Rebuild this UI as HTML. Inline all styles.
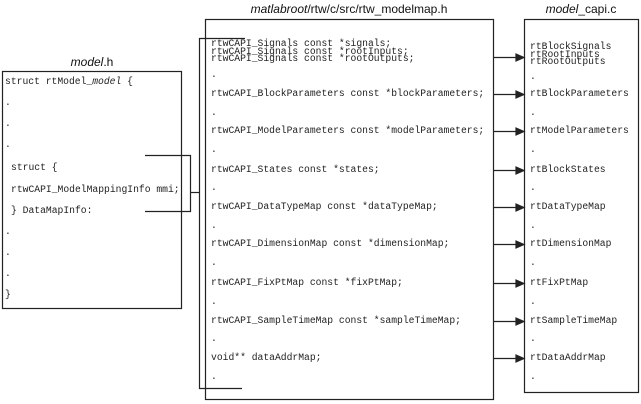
<!DOCTYPE html>
<html><head><meta charset="utf-8"><style>
body{margin:0;width:641px;height:404px;background:#fff;position:relative;overflow:hidden}
.t{position:absolute;font-family:"Liberation Mono",monospace;font-size:9.7px;line-height:10px;white-space:pre;color:#222}
.h{position:absolute;font-family:"Liberation Sans",sans-serif;font-size:12px;line-height:14px;white-space:pre;color:#111;transform:translateX(-50%)}
</style></head><body>
<svg width="641" height="404" style="position:absolute;left:0;top:0">
<g fill="none" stroke="#222" stroke-width="1.2">
<rect x="2.5" y="71.5" width="179" height="237"/>
<rect x="205.5" y="19.5" width="288" height="380"/>
<rect x="524.5" y="19.5" width="114" height="373"/>
<polyline points="145,155.5 190.5,155.5 190.5,211.5 145,211.5"/>
<line x1="190.5" y1="192.5" x2="199.5" y2="192.5"/>
<polyline points="245,38.5 199.5,38.5 199.5,388.5 242,388.5"/>
</g>
<g stroke="#222" stroke-width="1.2" fill="#222">
<line x1="494" y1="57.5" x2="516" y2="57.5"/><polygon points="516,54 524,57.5 516,61"/>
<line x1="494" y1="94.5" x2="516" y2="94.5"/><polygon points="516,91 524,94.5 516,98"/>
<line x1="494" y1="131.5" x2="516" y2="131.5"/><polygon points="516,128 524,131.5 516,135"/>
<line x1="494" y1="170.5" x2="516" y2="170.5"/><polygon points="516,167 524,170.5 516,174"/>
<line x1="494" y1="207.5" x2="516" y2="207.5"/><polygon points="516,204 524,207.5 516,211"/>
<line x1="494" y1="244.5" x2="516" y2="244.5"/><polygon points="516,241 524,244.5 516,248"/>
<line x1="494" y1="283.5" x2="516" y2="283.5"/><polygon points="516,280 524,283.5 516,287"/>
<line x1="494" y1="321.5" x2="516" y2="321.5"/><polygon points="516,318 524,321.5 516,325"/>
<line x1="494" y1="358.5" x2="516" y2="358.5"/><polygon points="516,355 524,358.5 516,362"/>
</g>
</svg>
<div class="h" style="left:92px;top:55px"><i>model</i>.h</div>
<div class="h" style="left:349px;top:2px"><i>matlabroot</i>/rtw/c/src/rtw_modelmap.h</div>
<div class="h" style="left:581px;top:2px"><i>model</i>_capi.c</div>

<div class="t" style="left:5px;top:77px">struct rtModel_<i>model</i> {</div>
<div class="t" style="left:5px;top:98px">.</div>
<div class="t" style="left:5px;top:119px">.</div>
<div class="t" style="left:5px;top:140px">.</div>
<div class="t" style="left:11px;top:163px">struct {</div>
<div class="t" style="left:11px;top:185px">rtwCAPI_ModelMappingInfo mmi;</div>
<div class="t" style="left:11px;top:206px">} DataMapInfo:</div>
<div class="t" style="left:5px;top:227px">.</div>
<div class="t" style="left:5px;top:248px">.</div>
<div class="t" style="left:5px;top:269px">.</div>
<div class="t" style="left:5px;top:290px">}</div>

<div class="t" style="left:211px;top:40px;line-height:7.5px">rtwCAPI_Signals const *signals;
rtwCAPI_Signals const *rootInputs;
rtwCAPI_Signals const *rootOutputs;</div>
<div class="t" style="left:211px;top:70px">.</div>
<div class="t" style="left:211px;top:89px">rtwCAPI_BlockParameters const *blockParameters;</div>
<div class="t" style="left:211px;top:108px">.</div>
<div class="t" style="left:211px;top:126px">rtwCAPI_ModelParameters const *modelParameters;</div>
<div class="t" style="left:211px;top:145px">.</div>
<div class="t" style="left:211px;top:165px">rtwCAPI_States const *states;</div>
<div class="t" style="left:211px;top:183px">.</div>
<div class="t" style="left:211px;top:202px">rtwCAPI_DataTypeMap const *dataTypeMap;</div>
<div class="t" style="left:211px;top:221px">.</div>
<div class="t" style="left:211px;top:239px">rtwCAPI_DimensionMap const *dimensionMap;</div>
<div class="t" style="left:211px;top:258px">.</div>
<div class="t" style="left:211px;top:278px">rtwCAPI_FixPtMap const *fixPtMap;</div>
<div class="t" style="left:211px;top:297px">.</div>
<div class="t" style="left:211px;top:316px">rtwCAPI_SampleTimeMap const *sampleTimeMap;</div>
<div class="t" style="left:211px;top:334px">.</div>
<div class="t" style="left:211px;top:353px">void** dataAddrMap;</div>
<div class="t" style="left:211px;top:372px">.</div>

<div class="t" style="left:530px;top:43px;line-height:7.5px">rtBlockSignals
rtRootInputs
rtRootOutputs</div>
<div class="t" style="left:530px;top:72px">.</div>
<div class="t" style="left:530px;top:89px">rtBlockParameters</div>
<div class="t" style="left:530px;top:108px">.</div>
<div class="t" style="left:530px;top:126px">rtModelParameters</div>
<div class="t" style="left:530px;top:145px">.</div>
<div class="t" style="left:530px;top:165px">rtBlockStates</div>
<div class="t" style="left:530px;top:183px">.</div>
<div class="t" style="left:530px;top:202px">rtDataTypeMap</div>
<div class="t" style="left:530px;top:221px">.</div>
<div class="t" style="left:530px;top:239px">rtDimensionMap</div>
<div class="t" style="left:530px;top:258px">.</div>
<div class="t" style="left:530px;top:278px">rtFixPtMap</div>
<div class="t" style="left:530px;top:297px">.</div>
<div class="t" style="left:530px;top:316px">rtSampleTimeMap</div>
<div class="t" style="left:530px;top:334px">.</div>
<div class="t" style="left:530px;top:353px">rtDataAddrMap</div>
<div class="t" style="left:530px;top:372px">.</div>
</body></html>
